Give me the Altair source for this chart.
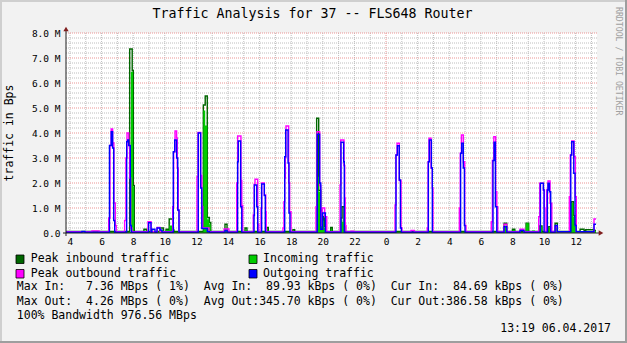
import altair as alt
import pandas as pd

FONT = "DejaVu Sans Mono"

# time = hours relative to 00:00 of 06.04.2017 (negative values = 05.04.2017), value = MBps
peak_in = [
    (-20.25, 0.06), (-16.22, 7.36), (-16.06, 6.5), (-15.99, 1.9), (-15.93, 0.06),
    (-15.32, 0.15), (-15.15, 0.06), (-14.30, 0.2), (-14.09, 0.06),
    (-13.92, 0.15), (-13.72, 0.56), (-13.50, 0.12), (-13.42, 0.06),
    (-11.56, 5.12), (-11.44, 5.48), (-11.31, 0.62), (-11.18, 0.42), (-11.09, 0.06),
    (-10.19, 0.35), (-10.06, 0.06), (-8.92, 0.2), (-8.80, 0.06),
    (-7.55, 0.22), (-7.45, 0.06), (-5.89, 0.13), (-5.78, 0.06),
    (-4.39, 4.59), (-4.26, 1.7), (-4.13, 0.9), (-4.03, 0.3), (-3.97, 0.65), (-3.88, 0.25), (-3.80, 0.06),
    (-3.50, 0.22), (-3.40, 0.06),
    (-2.87, 0.6), (-2.78, 1.05), (-2.66, 0.4), (-2.59, 0.06),
    (7.47, 0.39), (7.64, 0.06), (8.00, 0.15), (8.15, 0.06), (8.86, 0.39), (9.03, 0.06),
    (9.73, 0.28), (9.87, 0.06), (10.30, 0.25), (10.42, 0.06), (10.70, 0.39), (10.84, 0.06),
    (11.73, 1.25), (11.86, 0.7), (11.94, 0.35), (12.03, 0.06),
    (12.28, 0.15), (12.53, 0.1), (12.64, 0.13), (13.16, 0.1), (13.29, 0.1),
]

incoming = [
    (-20.25, 0.04), (-16.14, 6.45), (-16.01, 1.85), (-15.95, 0.04),
    (-15.32, 0.1), (-15.15, 0.04), (-14.30, 0.12), (-14.09, 0.04),
    (-13.92, 0.12), (-13.72, 0.3), (-13.50, 0.15), (-13.42, 0.04),
    (-11.56, 4.9), (-11.44, 4.3), (-11.31, 0.55), (-11.18, 0.35), (-11.09, 0.04),
    (-10.19, 0.1), (-10.06, 0.04), (-8.92, 0.12), (-8.80, 0.04),
    (-7.55, 0.12), (-7.45, 0.04),
    (-4.39, 2.25), (-4.26, 1.65), (-4.13, 0.8), (-4.03, 0.5), (-3.92, 0.2), (-3.84, 0.04),
    (-3.50, 0.15), (-3.40, 0.04),
    (-2.87, 0.55), (-2.76, 0.45), (-2.64, 0.04),
    (7.47, 0.3), (7.64, 0.04), (8.00, 0.12), (8.15, 0.04), (8.86, 0.39), (9.03, 0.04),
    (9.24, 0.1), (9.43, 0.04),
    (9.73, 0.25), (9.87, 0.04), (10.30, 0.2), (10.42, 0.04), (10.70, 0.3), (10.84, 0.04),
    (11.73, 1.2), (11.86, 0.65), (11.94, 0.3), (12.03, 0.04),
    (12.28, 0.08), (13.29, 0.08),
]

peak_out = [
    (-20.25, 0.05), (-18.61, 0.08), (-18.16, 0.05),
    (-17.55, 0.6), (-17.47, 3.5), (-17.39, 4.16), (-17.30, 3.6), (-17.22, 1.2), (-17.13, 0.3), (-17.07, 0.05),
    (-16.54, 0.5), (-16.46, 3.0), (-16.39, 4.0), (-16.28, 3.5), (-16.22, 2.2), (-16.16, 0.2), (-16.08, 0.05),
    (-15.06, 0.45), (-14.87, 0.05), (-14.49, 0.22), (-14.30, 0.05),
    (-13.50, 1.05), (-13.44, 3.25), (-13.35, 4.08), (-13.25, 3.8), (-13.21, 2.6), (-13.15, 0.9), (-13.10, 0.05),
    (-11.96, 2.25), (-11.90, 4.02), (-11.73, 2.3), (-11.66, 1.05), (-11.60, 0.2), (-11.20, 0.05),
    (-10.25, 0.16), (-9.94, 0.05),
    (-9.45, 2.0), (-9.39, 3.88), (-9.18, 2.1), (-9.13, 1.1), (-9.07, 0.05),
    (-8.40, 0.72), (-8.34, 1.95), (-8.29, 2.15), (-8.12, 0.35), (-8.05, 0.05),
    (-7.91, 1.0), (-7.87, 2.0), (-7.70, 1.52), (-7.61, 0.85), (-7.58, 0.05),
    (-6.52, 0.2), (-6.46, 1.25), (-6.41, 2.2), (-6.37, 3.05), (-6.33, 4.28), (-6.16, 2.0), (-6.10, 0.85), (-6.01, 0.05),
    (-4.43, 1.05), (-4.37, 4.05), (-4.20, 1.9), (-4.13, 0.3), (-4.03, 1.0), (-3.88, 0.65), (-3.75, 0.05),
    (-2.91, 1.92), (-2.87, 3.72), (-2.66, 2.7), (-2.61, 1.4), (-2.58, 0.3), (-2.53, 0.05),
    (-2.22, 0.07), (-2.03, 0.05),
    (0.57, 1.12), (0.63, 3.12), (0.70, 3.59), (0.84, 2.1), (0.95, 0.2), (1.01, 0.05),
    (1.58, 0.1), (1.79, 0.05),
    (2.61, 0.2), (2.66, 2.85), (2.72, 3.79), (2.85, 2.6), (2.93, 1.8), (2.97, 0.05),
    (4.64, 1.0), (4.70, 3.19), (4.77, 3.92), (4.89, 2.85), (4.98, 0.3), (5.06, 0.05),
    (6.66, 0.45), (6.73, 2.9), (6.82, 3.85), (6.94, 1.65), (7.01, 1.05), (7.07, 0.05),
    (7.47, 0.35), (7.64, 0.05), (8.48, 0.15), (8.73, 0.05),
    (9.66, 0.65), (9.73, 1.99), (9.96, 1.72), (10.02, 1.0), (10.06, 0.05),
    (10.17, 1.72), (10.25, 2.08), (10.38, 1.19), (10.49, 0.05),
    (10.70, 0.25), (10.84, 0.05),
    (11.60, 1.45), (11.66, 3.12), (11.75, 3.68), (11.90, 3.05), (11.98, 1.45), (12.04, 0.05),
    (13.16, 0.56), (13.29, 0.56),
]

outgoing = [
    (-20.25, 0.03), (-19.24, 0.06), (-19.05, 0.03),
    (-17.50, 3.5), (-17.39, 4.05), (-17.30, 3.4), (-17.23, 0.5), (-17.17, 0.03),
    (-16.41, 3.65), (-16.35, 3.72), (-16.28, 3.5), (-16.18, 0.3), (-16.12, 0.03),
    (-15.02, 0.41), (-14.87, 0.03), (-14.81, 0.15), (-14.62, 0.03), (-14.49, 0.2), (-14.30, 0.12), (-14.18, 0.03),
    (-13.46, 3.25), (-13.37, 3.72), (-13.25, 3.0), (-13.18, 0.92), (-13.10, 0.03),
    (-11.88, 4.0), (-11.73, 1.8), (-11.66, 0.18), (-11.31, 0.05), (-11.18, 0.03),
    (-10.19, 0.1), (-10.06, 0.03),
    (-9.39, 2.85), (-9.35, 3.68), (-9.20, 1.05), (-9.13, 0.03),
    (-8.35, 0.7), (-8.33, 1.92), (-8.18, 1.05), (-8.12, 0.03),
    (-7.87, 1.96), (-7.70, 1.5), (-7.64, 0.03),
    (-6.41, 3.05), (-6.35, 4.12), (-6.20, 2.8), (-6.14, 0.8), (-6.08, 0.03),
    (-4.35, 3.95), (-4.20, 2.0), (-4.13, 0.15), (-4.01, 0.8), (-3.84, 0.03),
    (-2.85, 3.63), (-2.68, 2.85), (-2.64, 0.03),
    (0.63, 3.12), (0.72, 3.49), (0.84, 2.12), (0.91, 0.2), (0.97, 0.03),
    (2.68, 2.85), (2.74, 3.72), (2.87, 2.6), (2.93, 0.03),
    (4.72, 3.19), (4.79, 3.59), (4.89, 2.6), (4.96, 0.3), (5.00, 0.03),
    (6.77, 2.9), (6.84, 3.63), (6.92, 1.05), (7.01, 0.03),
    (7.47, 0.25), (7.64, 0.03), (8.48, 0.1), (8.73, 0.03),
    (9.77, 1.99), (9.96, 1.72), (10.00, 0.03),
    (10.21, 1.72), (10.25, 1.99), (10.34, 1.65), (10.42, 0.03),
    (10.70, 0.3), (10.84, 0.05),
    (11.69, 3.12), (11.75, 3.65), (11.88, 2.39), (11.96, 0.3), (12.03, 0.05),
    (13.16, 0.35), (13.29, 0.35),
]

x_ticks = [-20, -18, -16, -14, -12, -10, -8, -6, -4, -2, 0, 2, 4, 6, 8, 10, 12]
y_ticks = [0, 1, 2, 3, 4, 5, 6, 7, 8]
minor_y = [round(i * 0.2, 1) for i in range(1, 41) if i % 5]
major_y = [1, 2, 3, 4, 5, 6, 7, 8]
minor_x = [h for h in range(-20, 14) if h != 0]
major_x = [0]

title_text = "Traffic Analysis for 37 -- FLS648 Router"
y_title = "traffic in Bps"
watermark = "RRDTOOL / TOBI OETIKER"
legend_names = ["Peak inbound traffic", "Incoming traffic", "Peak outbound traffic", "Outgoing traffic"]
legend_colors = ["#006600", "#00CC00", "#FF00FF", "#0000FF"]
stats_lines = [
    "Max In:   7.36 MBps ( 1%)  Avg In:  89.93 kBps ( 0%)  Cur In:  84.69 kBps ( 0%)",
    "Max Out:  4.26 MBps ( 0%)  Avg Out:345.70 kBps ( 0%)  Cur Out:386.58 kBps ( 0%)",
    "100% Bandwidth 976.56 MBps",
]
stamp = "13:19 06.04.2017"

XS = alt.Scale(domain=[-20.25, 13.35], nice=False, zero=False)
YS = alt.Scale(domain=[0, 8], nice=False, zero=False)
X_AXIS = alt.Axis(values=x_ticks, labelExpr="'' + ((datum.value + 24) % 24)", labelFont=FONT,
                  labelFontSize=9.5, labelColor="#000000", labelPadding=3, ticks=False,
                  domain=False, grid=False, title=None, labelFlush=False, labelOverlap=False)
Y_AXIS = alt.Axis(values=y_ticks, labelExpr="datum.value == 0 ? '0.0' : format(datum.value, '.1f') + ' M'",
                  labelFont=FONT, labelFontSize=9.5, labelColor="#000000", labelPadding=6, ticks=False,
                  domain=False, grid=False, title=None, labelFlush=False, labelOverlap=False)

dummy = pd.DataFrame({"a": [0]})


def sdf(pairs):
    return pd.DataFrame(pairs, columns=["t", "v"])


def hgrid(vals, color):
    return alt.Chart(pd.DataFrame({"g": vals})).mark_rule(color=color, strokeWidth=1, strokeDash=[1, 1]).encode(
        y=alt.Y("g:Q", scale=YS, axis=Y_AXIS))


def vgrid(vals, color):
    return alt.Chart(pd.DataFrame({"h": vals})).mark_rule(color=color, strokeWidth=1, strokeDash=[1, 1]).encode(
        x=alt.X("h:Q", scale=XS, axis=X_AXIS))


def txt(s, x, y, size=11.5, align="left", angle=0, color="#000000"):
    return alt.Chart(dummy).mark_text(text=s.replace(" ", "\u00a0"), font=FONT, fontSize=size, align=align,
                                      baseline="middle", angle=angle, color=color).encode(
        x=alt.value(x), y=alt.value(y))


def rule(x, x2, y, y2, color, w=1):
    return alt.Chart(dummy).mark_rule(color=color, strokeWidth=w).encode(
        x=alt.value(x), x2=alt.value(x2), y=alt.value(y), y2=alt.value(y2))


GRID = "#BEBEBE"
MGRID = "#EB9595"
LW = 1.4

layers = [
    hgrid(minor_y, GRID), vgrid(minor_x, GRID),
    hgrid(major_y, MGRID), vgrid(major_x, MGRID),
]

layers.append(alt.Chart(sdf(peak_in)).mark_line(interpolate="step-after", color="#006600", strokeWidth=LW).encode(
    x=alt.X("t:Q", scale=XS, axis=X_AXIS), y=alt.Y("v:Q", scale=YS, axis=Y_AXIS)))
layers.append(alt.Chart(sdf(incoming)).mark_area(interpolate="step-after", color="#00CC00", opacity=1).encode(
    x=alt.X("t:Q", scale=XS, axis=X_AXIS), y=alt.Y("v:Q", scale=YS, axis=Y_AXIS)))
layers.append(alt.Chart(sdf(peak_out)).mark_line(interpolate="step-after", color="#FF00FF", strokeWidth=LW).encode(
    x=alt.X("t:Q", scale=XS, axis=X_AXIS), y=alt.Y("v:Q", scale=YS, axis=Y_AXIS)))
layers.append(alt.Chart(sdf(outgoing)).mark_line(interpolate="step-after", color="#0000FF", strokeWidth=LW).encode(
    x=alt.X("t:Q", scale=XS, axis=X_AXIS), y=alt.Y("v:Q", scale=YS, axis=Y_AXIS)))

# axes lines and arrows
AXIS_C = "#1F1F1F"
ARROW_C = "#801F1F"
layers.append(rule(0, 0, -4, 203, AXIS_C))
layers.append(rule(-3, 533, 200, 200, AXIS_C))
layers.append(alt.Chart(dummy).mark_point(shape="triangle-up", filled=True, size=28, color=ARROW_C, opacity=1).encode(
    x=alt.value(0), y=alt.value(-4)))
layers.append(alt.Chart(dummy).mark_point(shape="triangle-right", filled=True, size=28, color=ARROW_C, opacity=1).encode(
    x=alt.value(535), y=alt.value(200)))

# outer frame (3D shade)
layers.append(rule(-66, 561, -32, -32, "#CFCFCF", 2))
layers.append(rule(-65, -65, -33, 310, "#CFCFCF", 2))
layers.append(rule(560, 560, -33, 310, "#9E9E9E", 2))
layers.append(rule(-66, 561, 309, 309, "#9E9E9E", 2))

# texts
layers.append(txt(title_text, 246.5, -19.5, size=13.3, align="center"))
layers.append(txt(y_title, -55.7, 100, size=11.5, align="center", angle=270))
layers.append(txt(watermark, 552, -26, size=8.2, align="left", angle=90, color="#A0A0A0"))

sq_x = [-50, 183]
txt_x = [-35.2, 197]
row_y = [226, 240.5]
for i, (name, col) in enumerate(zip(legend_names, legend_colors)):
    r, c = divmod(i, 2)
    layers.append(alt.Chart(dummy).mark_rect(fill=col, stroke="#000000", strokeWidth=0.8).encode(
        x=alt.value(sq_x[c]), x2=alt.value(sq_x[c] + 8), y=alt.value(row_y[r] - 4), y2=alt.value(row_y[r] + 4.5)))
    layers.append(txt(name, txt_x[c], row_y[r]))

for k, line in enumerate(stats_lines):
    layers.append(txt(line, -49.2, 254.3 + 14.2 * k))
layers.append(txt(stamp, 545, 296.3, align="right"))

chart = alt.layer(*layers).properties(
    width=531, height=200,
    padding={"left": 66, "top": 33, "right": 30, "bottom": 110},
    autosize=alt.AutoSizeParams(type="none"),
    background="#F2F2F2",
).configure_view(fill="#FFFFFF", stroke=None)

chart.save("out.html", embed_options={"renderer": "svg", "actions": False})
